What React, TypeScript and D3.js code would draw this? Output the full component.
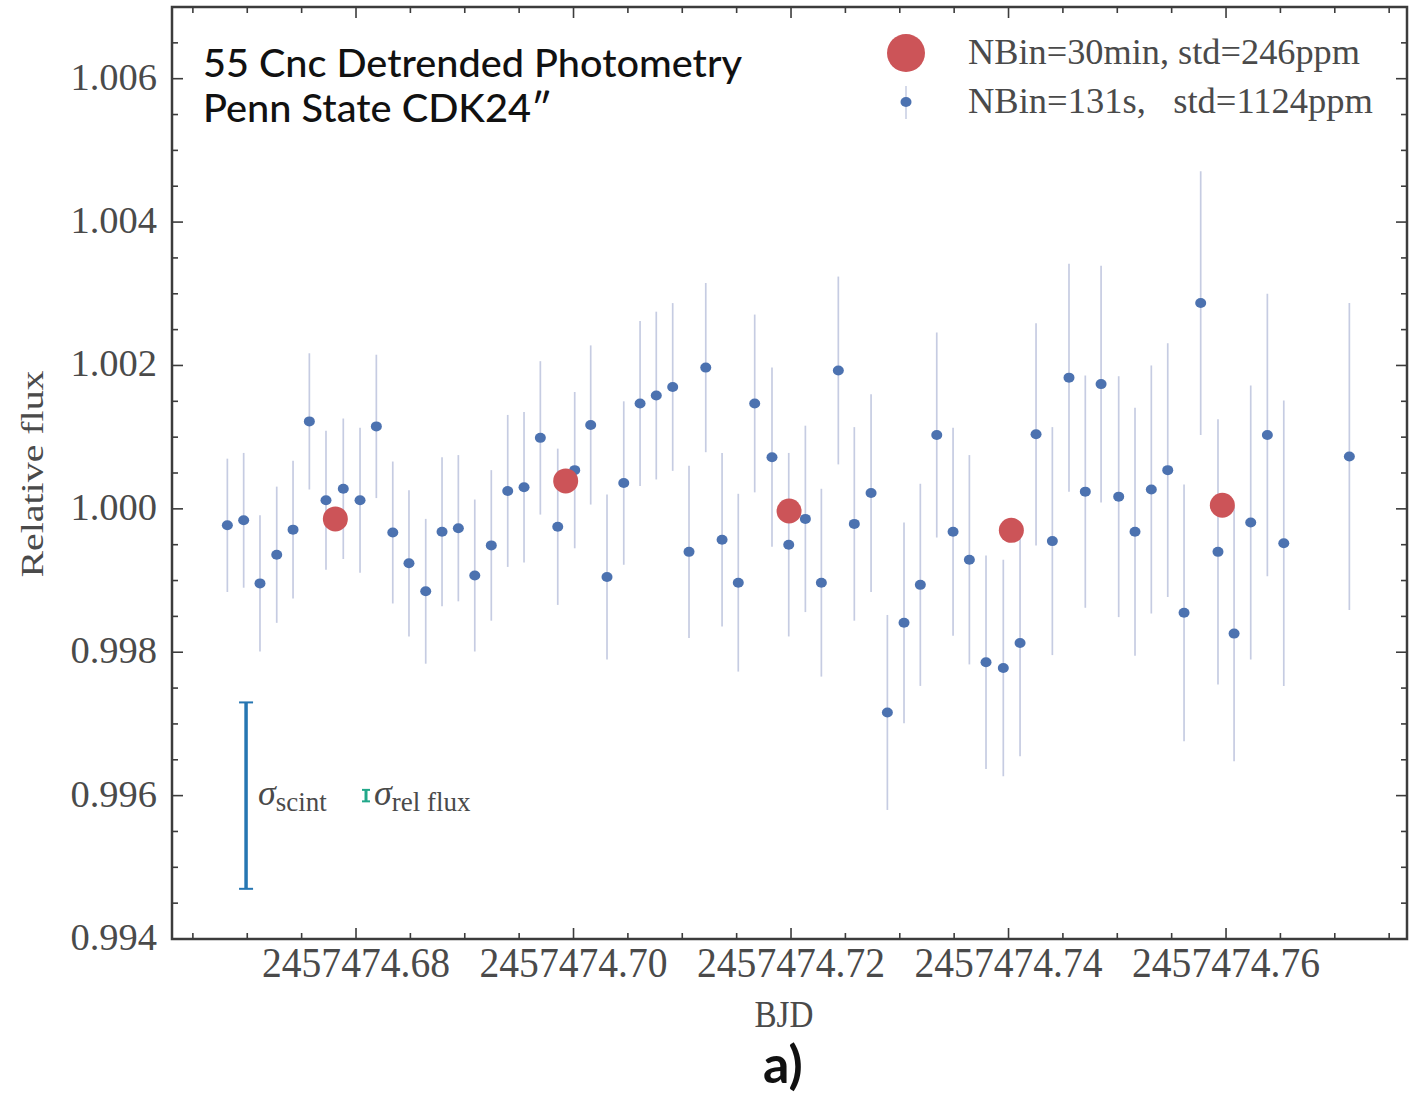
import React from "react";
import * as d3 from "d3";

// ---------- data ----------
const BJD_BASE = 2457474;
// unbinned points (131 s bins): BJD offset from base, relative flux, 1-sigma error
const bjd = [
  0.66817, 0.66967, 0.67117, 0.67271, 0.67421, 0.67571, 0.67724, 0.67883, 0.68037, 0.68187,
  0.68338, 0.68487, 0.68641, 0.68791, 0.68941, 0.69092, 0.69244, 0.69395, 0.69545, 0.69695,
  0.69855, 0.70011, 0.70158, 0.70308, 0.70462, 0.70612, 0.70761, 0.70912, 0.71062, 0.71216,
  0.71366, 0.71515, 0.71666, 0.71825, 0.71979, 0.72132, 0.72279, 0.72435, 0.72582, 0.72736,
  0.72886, 0.73039, 0.73189, 0.7334, 0.7349, 0.7364, 0.73793, 0.73952, 0.74106, 0.74253,
  0.74403, 0.74556, 0.74706, 0.74851, 0.75013, 0.75163, 0.75313, 0.75464, 0.75614, 0.75767,
  0.75926, 0.76074, 0.76227, 0.7638, 0.76531, 0.77134,
];
const flux = [
  0.99977, 0.99984, 0.99896, 0.99936, 0.99971, 1.00122, 1.00012, 1.00028, 1.00012, 1.00115,
  0.99967, 0.99924, 0.99885, 0.99968, 0.99973, 0.99907, 0.99949, 1.00025, 1.0003, 1.00099,
  0.99975, 1.00054, 1.00117, 0.99905, 1.00036, 1.00147, 1.00158, 1.0017, 0.9994, 1.00197,
  0.99957, 0.99897, 1.00147, 1.00072, 0.9995, 0.99986, 0.99897, 1.00193, 0.99979, 1.00022,
  0.99716, 0.99841, 0.99894, 1.00103, 0.99968, 0.99929, 0.99786, 0.99778, 0.99813, 1.00104,
  0.99955, 1.00183, 1.00024, 1.00174, 1.00017, 0.99968, 1.00027, 1.00054, 0.99855, 1.00287,
  0.9994, 0.99826, 0.99981, 1.00103, 0.99952, 1.00073,
];
const fluxErr = [
  0.00093, 0.00094, 0.00095, 0.00095, 0.00096, 0.00095, 0.00097, 0.00098, 0.00101, 0.001,
  0.00099, 0.00102, 0.00101, 0.00104, 0.00102, 0.00106, 0.00105, 0.00106, 0.00105, 0.00107,
  0.00109, 0.00109, 0.00111, 0.00115, 0.00114, 0.00115, 0.00117, 0.00117, 0.0012, 0.00118,
  0.00121, 0.00124, 0.00124, 0.00125, 0.00128, 0.0013, 0.00131, 0.00131, 0.00135, 0.00138,
  0.00136, 0.0014, 0.00141, 0.00143, 0.00145, 0.00146, 0.00149, 0.00151, 0.00158, 0.00155,
  0.00159, 0.00159, 0.00162, 0.00165, 0.00168, 0.00173, 0.00173, 0.00177, 0.00179, 0.00184,
  0.00185, 0.00178, 0.00191, 0.00197, 0.00199, 0.00214,
];
// 30-min bins
const binBjd = [0.6781, 0.69928, 0.71982, 0.74026, 0.75966];
const binFlux = [0.99986, 1.00039, 0.99997, 0.9997, 1.00005];

// scintillation / relative flux error markers
const sigmaBjd = [0.66989, 0.68092];
const sigmaHalf = [0.0013, 0.00008];
const sigmaCenter = 0.996;

const xTickValues = [0.68, 0.7, 0.72, 0.74, 0.76];
const yTickValues = [0.994, 0.996, 0.998, 1.0, 1.002, 1.004, 1.006];
const xDomain = [0.66308, 0.77664];
const yDomain = [0.994, 1.007];

const legendLabels = ["NBin=30min, std=246ppm", "NBin=131s,   std=1124ppm"];
const titleLines = ["55 Cnc Detrended Photometry", "Penn State CDK24\u2033"];

// ---------- layout ----------
const W = 1415;
const H = 1097;
const L = 172, R = 1407, T = 7, B = 939;

const BLUE = "#4c72b0";
const RED = "#cc5458";
const ERR = "#c6cce2";
const FRAME = "#3c3c3c";
const TXT = "#4a4a4a";
const SERIF = "'Liberation Serif', 'Times New Roman', serif";
const SANS = "Lato, 'Open Sans', sans-serif";

export default function App() {
  const x = d3.scaleLinear().domain(xDomain).range([L, R]);
  const y = d3.scaleLinear().domain(yDomain).range([B, T]);

  const xMinor = d3.range(0.665, 0.7751, 0.005).filter(
    (v) => !xTickValues.some((m) => Math.abs(m - v) < 1e-6)
  );
  const yMinor = d3.range(0.994, 1.00701, 0.0005).filter(
    (v) => !yTickValues.some((m) => Math.abs(m - v) < 1e-7)
  );
  const fmtY = d3.format(".3f");
  const fmtX = (v: number) => d3.format(".2f")(BJD_BASE + v);

  const tickStyle = { stroke: FRAME, strokeWidth: 1.6 };
  const MAJ = 11, MIN = 6;

  return (
    <svg
      width={W}
      height={H}
      style={{ position: "absolute", left: 0, top: 0, background: "#fff" }}
      xmlns="http://www.w3.org/2000/svg"
    >
      <rect x={0} y={0} width={W} height={H} fill="#fff" />

      {/* error bars */}
      <g>
        {bjd.map((b, i) => (
          <line
            key={"e" + i}
            x1={x(b)}
            x2={x(b)}
            y1={y(flux[i] - fluxErr[i])}
            y2={y(flux[i] + fluxErr[i])}
            stroke={ERR}
            strokeWidth={1.7}
          />
        ))}
      </g>
      {/* unbinned points */}
      <g>
        {bjd.map((b, i) => (
          <ellipse key={"p" + i} cx={x(b)} cy={y(flux[i])} rx={5.5} ry={5} fill={BLUE} />
        ))}
      </g>
      {/* binned points */}
      <g>
        {binBjd.map((b, i) => (
          <circle key={"b" + i} cx={x(b)} cy={y(binFlux[i])} r={12.5} fill={RED} />
        ))}
      </g>

      {/* sigma markers */}
      <g>
        {sigmaBjd.map((b, i) => {
          const col = i === 0 ? "#2676b2" : "#22a88a";
          const cx = x(b);
          const y1 = y(sigmaCenter - sigmaHalf[i]);
          const y2 = y(sigmaCenter + sigmaHalf[i]);
          const cap = i === 0 ? 7 : 4;
          return (
            <g key={"s" + i}>
              <line x1={cx} x2={cx} y1={y1} y2={y2} stroke={col} strokeWidth={i === 0 ? 3.5 : 3} />
              <line x1={cx - cap} x2={cx + cap} y1={y1} y2={y1} stroke={col} strokeWidth={2} />
              <line x1={cx - cap} x2={cx + cap} y1={y2} y2={y2} stroke={col} strokeWidth={2} />
            </g>
          );
        })}
        <text x={x(sigmaBjd[0]) + 12} y={y(sigmaCenter) + 9} fontFamily={SERIF} fill={TXT}>
          <tspan fontStyle="italic" fontSize={36}>σ</tspan>
          <tspan fontSize={27} dy={6}>scint</tspan>
        </text>
        <text x={x(sigmaBjd[1]) + 8} y={y(sigmaCenter) + 9} fontFamily={SERIF} fill={TXT}>
          <tspan fontStyle="italic" fontSize={36}>σ</tspan>
          <tspan fontSize={27} dy={6}>rel flux</tspan>
        </text>
      </g>

      {/* frame */}
      <rect x={L} y={T} width={R - L} height={B - T} fill="none" stroke={FRAME} strokeWidth={2.5} />

      {/* ticks */}
      <g>
        {xTickValues.map((v) => (
          <g key={"xt" + v}>
            <line x1={x(v)} x2={x(v)} y1={B} y2={B - MAJ} {...tickStyle} />
            <line x1={x(v)} x2={x(v)} y1={T} y2={T + MAJ} {...tickStyle} />
          </g>
        ))}
        {xMinor.map((v) => (
          <g key={"xm" + v}>
            <line x1={x(v)} x2={x(v)} y1={B} y2={B - MIN} {...tickStyle} />
            <line x1={x(v)} x2={x(v)} y1={T} y2={T + MIN} {...tickStyle} />
          </g>
        ))}
        {yTickValues.map((v) => (
          <g key={"yt" + v}>
            <line x1={L} x2={L + MAJ} y1={y(v)} y2={y(v)} {...tickStyle} />
            <line x1={R} x2={R - MAJ} y1={y(v)} y2={y(v)} {...tickStyle} />
          </g>
        ))}
        {yMinor.map((v) => (
          <g key={"ym" + v}>
            <line x1={L} x2={L + MIN} y1={y(v)} y2={y(v)} {...tickStyle} />
            <line x1={R} x2={R - MIN} y1={y(v)} y2={y(v)} {...tickStyle} />
          </g>
        ))}
      </g>

      {/* tick labels */}
      <g fontFamily={SERIF} fill={TXT}>
        {yTickValues.map((v) => (
          <text key={"yl" + v} x={157} y={y(v) + 11} fontSize={38.5} textAnchor="end">
            {fmtY(v)}
          </text>
        ))}
        {xTickValues.map((v) => (
          <text
            key={"xl" + v}
            x={x(v)}
            y={977}
            fontSize={43}
            textAnchor="middle"
            textLength={188}
            lengthAdjust="spacingAndGlyphs"
          >
            {fmtX(v)}
          </text>
        ))}
      </g>

      {/* axis labels */}
      <text
        x={784}
        y={1027}
        fontFamily={SERIF}
        fontSize={37}
        fill={TXT}
        textAnchor="middle"
        textLength={59}
        lengthAdjust="spacingAndGlyphs"
      >
        BJD
      </text>
      <text
        transform="translate(43,474) rotate(-90)"
        fontFamily={SERIF}
        fontSize={32}
        fill={TXT}
        textAnchor="middle"
        textLength={207}
        lengthAdjust="spacingAndGlyphs"
      >
        Relative flux
      </text>

      {/* title */}
      <g fontFamily={SANS} fill="#111" fontWeight={500}>
        <text x={203} y={77} fontSize={38} textLength={539} lengthAdjust="spacingAndGlyphs">
          {titleLines[0]}
        </text>
        <text x={203} y={122} fontSize={38} textLength={349} lengthAdjust="spacingAndGlyphs">
          {titleLines[1]}
        </text>
      </g>

      {/* legend */}
      <g>
        <circle cx={906} cy={53} r={19} fill={RED} />
        <line x1={906} x2={906} y1={86} y2={119} stroke={ERR} strokeWidth={1.5} />
        <ellipse cx={906} cy={102} rx={5.5} ry={5} fill={BLUE} />
        <text x={968} y={64} fontFamily={SERIF} fontSize={35} fill={TXT} textLength={392} lengthAdjust="spacingAndGlyphs">
          {legendLabels[0]}
        </text>
        <text
          x={968}
          y={113}
          fontFamily={SERIF}
          fontSize={35}
          fill={TXT}
          style={{ whiteSpace: "pre" }}
          textLength={405}
          lengthAdjust="spacingAndGlyphs"
        >
          {legendLabels[1]}
        </text>
      </g>

      {/* panel label */}
      <text x={783} y={1083} fontFamily={SANS} fontSize={52} fontWeight={700} fill="#111" textAnchor="middle">
        a)
      </text>
    </svg>
  );
}
